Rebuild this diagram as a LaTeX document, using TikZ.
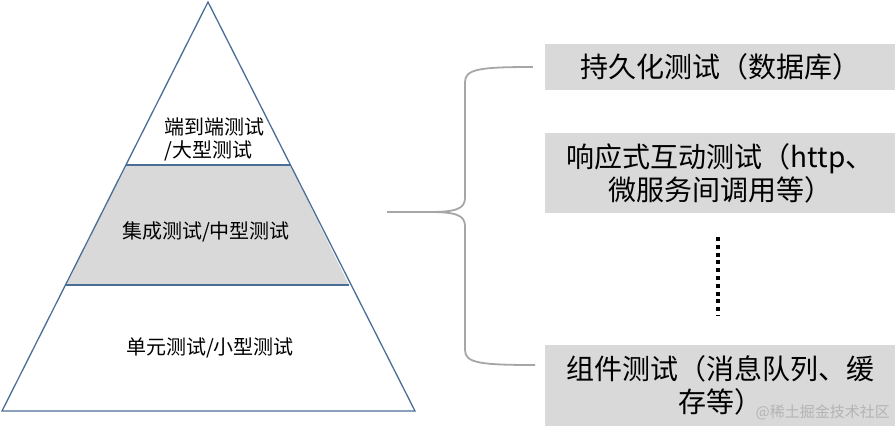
\documentclass[tikz,border=0pt]{standalone}
\usepackage{fontspec}
\newfontfamily\cjk{Noto Sans CJK SC}
\definecolor{edgeblue}{HTML}{4A6E96}
\definecolor{bandgray}{HTML}{D9D9D9}
\definecolor{bracegray}{HTML}{A6A6A6}
\definecolor{markgray}{HTML}{B4B4B4}
\begin{document}
\begin{tikzpicture}[x=1pt, y=-1pt,
  level/.style={font=\cjk\fontsize{20}{23}\selectfont},
  item/.style={fill=bandgray, minimum width=350pt, inner sep=0pt, align=center, font=\cjk\fontsize{28}{33}\selectfont}]
\useasboundingbox (0,0) rectangle (895,426);
\coordinate (apex) at (208,2);
\coordinate (baseL) at (2,411);
\coordinate (baseR) at (415,411);
\fill[bandgray] (126,165) -- (290,165) -- (349,285) -- (66,285) -- cycle;
\draw[edgeblue, line width=1.3pt] (apex) -- (baseR) -- (baseL) -- cycle;
\draw[edgeblue, line width=1.3pt] (126,165) -- (290,165);
\draw[edgeblue, line width=1.3pt] (66,285) -- (349,285);

\node[level, anchor=west, align=left] (e2e) at (161,139) {端到端测试\\/大型测试};
\node[level] (integ) at (206,232) {集成测试/中型测试};
\node[level] (unit) at (210,348) {单元测试/小型测试};

\node[item, minimum height=46pt] (db) at (720,67) {持久化测试（数据库）};
\node[item, minimum height=80pt] (http) at (720,173) {响应式互动测试（http、\\微服务间调用等）};
\node[item, minimum height=81pt] (comp) at (720,385.5) {组件测试（消息队列、缓\\存等）};

\coordinate (tip) at (387,212);
\draw[bracegray, line width=1.8pt] (db.west) ++(-12,0) coordinate (topend)
  .. controls (480,67) and (465,69) .. (465,82) -- (465,198)
  .. controls (465,209) and (455,212) .. (430,212) -- (tip);
\draw[bracegray, line width=1.8pt] (tip) -- (430,212)
  .. controls (455,212) and (465,215) .. (465,226) -- (465,350)
  .. controls (465,363) and (480,365) .. (535,365);

\draw[line width=4pt, dash pattern=on 4pt off 3.8pt] (718,237) -- (718,316);

\node[markgray, font=\cjk\fontsize{15}{15}\selectfont, anchor=east, inner sep=1pt] (mark) at (891,412) {@稀土掘金技术社区};
\end{tikzpicture}
\end{document}
